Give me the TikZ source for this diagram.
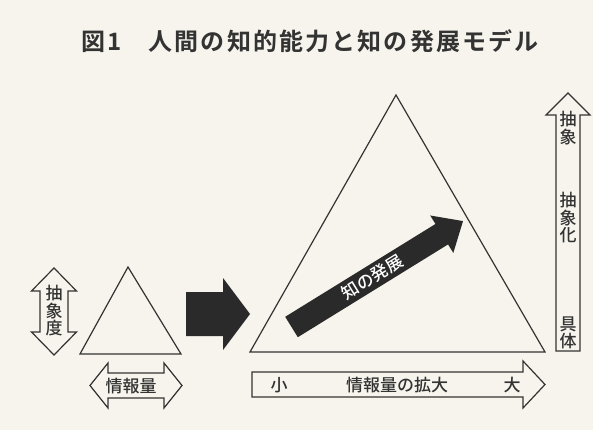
\documentclass[tikz,border=0pt]{standalone}
\usepackage{fontspec}
\newfontfamily\cjk{Noto Sans CJK JP}[UprightFont=* Medium, BoldFont=* Bold, Kerning=Off]
\newfontfamily\cjktitle{Noto Sans CJK JP}[UprightFont=* Bold, Kerning=Off, LetterSpace=9]
\definecolor{ink}{HTML}{333333}
\definecolor{paper}{HTML}{F6F4EC}
\definecolor{blk}{HTML}{2A2A2A}
\tikzset{
  outl/.style={draw=ink, line width=1.2pt, line join=miter},
  solid arrow/.style={fill=blk, draw=none},
  lbl/.style={text=ink, inner sep=0pt, font=\cjk\fontsize{17}{17.5}\selectfont, align=center},
  titlefont/.style={text=ink, inner sep=0pt, font=\cjktitle\fontsize{24}{26}\selectfont},
}
\begin{document}
\begin{tikzpicture}[x=1pt,y=-1pt]
  \fill[paper] (0,0) rectangle (593,430);
  \useasboundingbox (0,0) rectangle (593,430);

  % title
  \node[titlefont, anchor=west] (title) at (81,41) {図1\hspace{27pt}人間の知的能力と知の発展モデル};

  % small triangle
  \coordinate (sA) at (128,267);
  \coordinate (sB) at (80,354);
  \coordinate (sC) at (181,354);
  \draw[outl] (sA) -- (sB) -- (sC) -- cycle;

  % vertical double arrow (abstraction degree)
  \draw[outl] (54,268) -- (76.5,291) -- (68,291) -- (68,332) -- (76.5,332) -- (54,355)
     -- (31.5,332) -- (40,332) -- (40,291) -- (31.5,291) -- cycle;
  \node[lbl] (chusho) at (54,311) {抽\\象\\度};

  % horizontal double arrow (information amount)
  \draw[outl] (90,385.5) -- (108,363) -- (108,373) -- (164,373) -- (164,363) -- (182,385.5)
     -- (164,408) -- (164,398) -- (108,398) -- (108,408) -- cycle;
  \node[lbl] (joho) at (131,386) {情報量};

  % big black arrow
  \fill[solid arrow] (186,292) -- (223,292) -- (223,278) -- (250,314) -- (223,350)
     -- (223,336) -- (186,336) -- cycle;

  % big triangle
  \coordinate (bA) at (396,95);
  \coordinate (bB) at (250,352);
  \coordinate (bC) at (545,352);
  \draw[outl] (bA) -- (bB) -- (bC) -- cycle;

  % diagonal arrow
  \begin{scope}[shift={(291.5,327)}, rotate=31.7]
    \fill[solid arrow] (0,-12) -- (176.6,-12) -- (176.6,-22) -- (201.6,0) -- (176.6,22)
       -- (176.6,12) -- (0,12) -- cycle;
    \node[lbl, text=white, font=\cjk\fontsize{17}{18}\selectfont, rotate=31.7] (hatten) at (95,0) {知の発展};
  \end{scope}

  % bottom right arrow
  \draw[outl] (252,372) -- (523,372) -- (523,361) -- (545,384.5) -- (523,408)
     -- (523,397) -- (252,397) -- cycle;
  \node[lbl] (sho) at (279,385) {小};
  \node[lbl] (kakudai) at (397,385) {情報量の拡大};
  \node[lbl] (dai) at (512,385) {大};

  % right vertical arrow
  \draw[outl] (568,93) -- (590,115) -- (580,115) -- (580,351) -- (556,351) -- (556,115)
     -- (546,115) -- cycle;
  \node[lbl] (chu) at (568,128) {抽\\象};
  \node[lbl] (chuka) at (568,218) {抽\\象\\化};
  \node[lbl] (gutai) at (568,333) {具\\体};
\end{tikzpicture}
\end{document}
